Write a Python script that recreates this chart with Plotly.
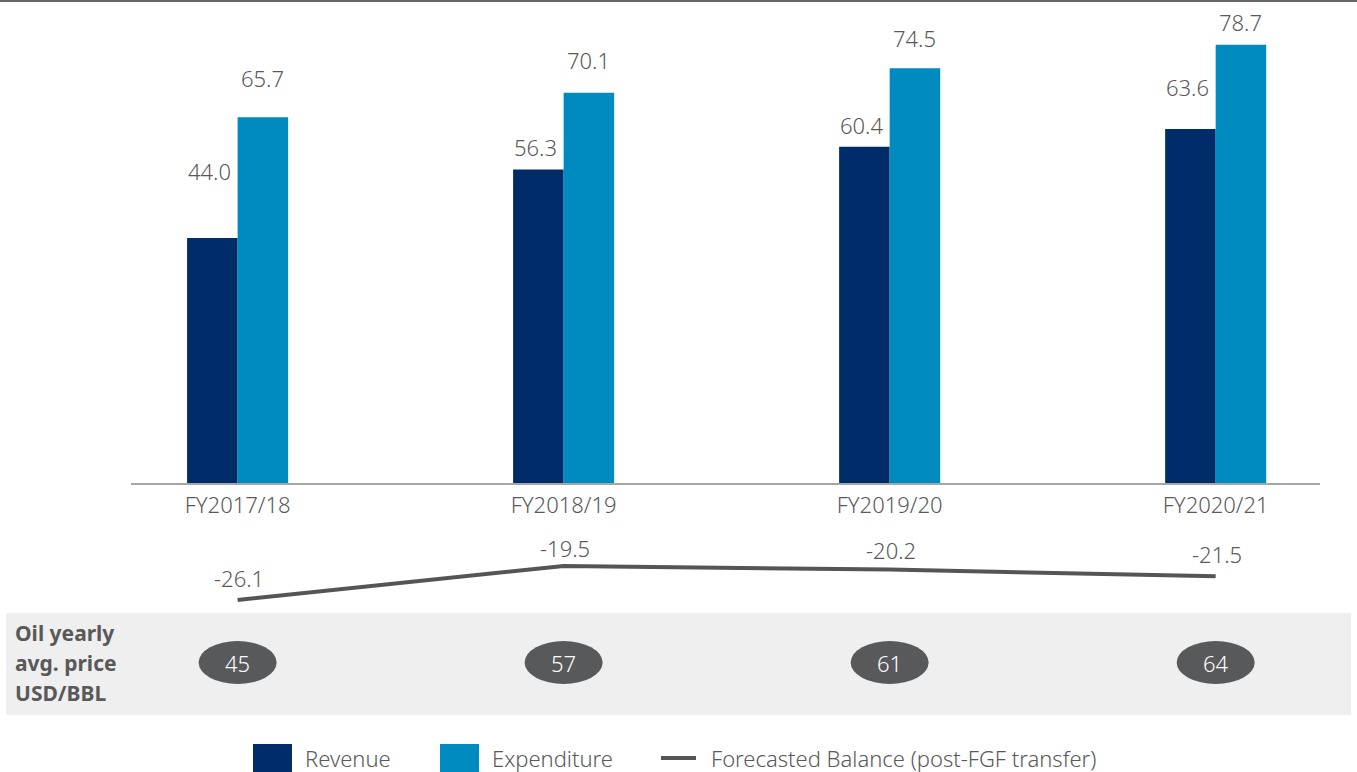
import plotly.graph_objects as go

W, H = 1357, 772

categories = ["FY2017/18", "FY2018/19", "FY2019/20", "FY2020/21"]
revenue = [44.0, 56.3, 60.4, 63.6]
expenditure = [65.7, 70.1, 74.5, 78.7]
balance = [-26.1, -19.5, -20.2, -21.5]
oil_price = [45, 57, 61, 64]

REV_COLOR = "#002d6a"
EXP_COLOR = "#008bc0"
LINE_COLOR = "#555555"
TEXT_COLOR = "#595959"
FONT = "Noto Sans"
LIGHT = 300


def px_x(p):
    return p / W


def px_y(p):
    return 1 - p / H


def txt_font(size=22, color=TEXT_COLOR, weight=LIGHT):
    return dict(family=FONT, size=size, color=color, weight=weight)


fig = go.Figure()

fig.add_trace(go.Bar(x=categories, y=revenue, name="Revenue",
                     marker=dict(color=REV_COLOR, line=dict(width=0)),
                     showlegend=False, hoverinfo="x+y"))
fig.add_trace(go.Bar(x=categories, y=expenditure, name="Expenditure",
                     marker=dict(color=EXP_COLOR, line=dict(width=0)),
                     showlegend=False, hoverinfo="x+y"))
fig.add_trace(go.Scatter(x=categories, y=balance, yaxis="y2", mode="lines",
                         name="Forecasted Balance (post-FGF transfer)",
                         line=dict(color=LINE_COLOR, width=4),
                         showlegend=False))

annotations = []
shapes = []

# value labels above bars (hand-tuned vertical offsets, in pixels)
rev_label_lift = [67, 23, 22, 42]
exp_label_lift = [39, 33, 30, 23]
for i, (r, e) in enumerate(zip(revenue, expenditure)):
    annotations.append(dict(x=i, y=r, xref="x", yref="y", text=f"{r:.1f}",
                            showarrow=False, xshift=-28, yshift=rev_label_lift[i],
                            yanchor="middle", font=txt_font()))
    annotations.append(dict(x=i, y=e, xref="x", yref="y", text=f"{e:.1f}",
                            showarrow=False, xshift=25, yshift=exp_label_lift[i],
                            yanchor="middle", font=txt_font()))

# balance labels
bal_label_lift = [22, 18, 20, 22]
for i, b in enumerate(balance):
    annotations.append(dict(x=i, y=b, xref="x", yref="y2", text=f"{b:.1f}",
                            showarrow=False, yshift=bal_label_lift[i], xshift=1,
                            yanchor="middle", font=txt_font()))

# top rule
shapes.append(dict(type="line", xref="paper", yref="paper", x0=0, x1=1,
                   y0=px_y(1), y1=px_y(1), line=dict(color="#666666", width=2)))

# oil price band
shapes.append(dict(type="rect", xref="paper", yref="paper", layer="below",
                   x0=px_x(6), x1=px_x(1351), y0=px_y(715), y1=px_y(613),
                   fillcolor="#efefef", line=dict(width=0)))
for y_px, line_txt in [(633, "Oil yearly"), (663, "avg. price"), (693, "USD/BBL")]:
    annotations.append(dict(x=px_x(13), y=px_y(y_px), xref="paper", yref="paper",
                            xanchor="left", yanchor="middle", align="left",
                            showarrow=False, text=line_txt,
                            font=txt_font(size=21, weight=700)))

half_w = 39 / 326
for i, p in enumerate(oil_price):
    shapes.append(dict(type="circle", xref="x", yref="paper",
                       x0=i - half_w, x1=i + half_w,
                       y0=px_y(684), y1=px_y(641),
                       fillcolor="#58595b", line=dict(width=0)))
    annotations.append(dict(x=i, y=px_y(662.5), xref="x", yref="paper",
                            text=str(p), showarrow=False, yanchor="middle",
                            font=txt_font(color="white")))

# legend
legend_y = 758
shapes.append(dict(type="rect", xref="paper", yref="paper",
                   x0=px_x(253), x1=px_x(292), y0=px_y(772), y1=px_y(744),
                   fillcolor=REV_COLOR, line=dict(width=0)))
shapes.append(dict(type="rect", xref="paper", yref="paper",
                   x0=px_x(440), x1=px_x(479), y0=px_y(772), y1=px_y(744),
                   fillcolor=EXP_COLOR, line=dict(width=0)))
shapes.append(dict(type="line", xref="paper", yref="paper",
                   x0=px_x(661), x1=px_x(696), y0=px_y(legend_y), y1=px_y(legend_y),
                   line=dict(color=LINE_COLOR, width=4)))
for x_px, txt in [(303, "Revenue"), (490, "Expenditure"),
                  (709, "Forecasted Balance (post-FGF transfer)")]:
    annotations.append(dict(x=px_x(x_px), y=px_y(legend_y), xref="paper", yref="paper",
                            xanchor="left", yanchor="middle", showarrow=False,
                            text=txt, font=txt_font()))

fig.update_layout(
    width=W, height=H,
    margin=dict(l=0, r=0, t=0, b=0),
    paper_bgcolor="white", plot_bgcolor="white",
    barmode="group", bargap=0.69, bargroupgap=0,
    font=dict(family=FONT, color=TEXT_COLOR),
    xaxis=dict(domain=[px_x(131), px_x(1320)], range=[-0.327, 3.32],
               type="category", showline=True, linecolor="#a6a6a6", linewidth=2,
               showgrid=False, zeroline=False, ticks="",
               tickfont=txt_font(), ticklabelstandoff=2,
               anchor="y", fixedrange=True),
    yaxis=dict(domain=[px_y(483), 1], range=[0, 86.76], visible=False,
               showgrid=False, zeroline=False, fixedrange=True),
    yaxis2=dict(domain=[px_y(610), px_y(520)], range=[-28.04, -10.57],
                visible=False, anchor="x", showgrid=False, zeroline=False,
                fixedrange=True),
    annotations=annotations,
    shapes=shapes,
    showlegend=False,
)

fig.write_html("out.html", config=dict(displayModeBar=False))
